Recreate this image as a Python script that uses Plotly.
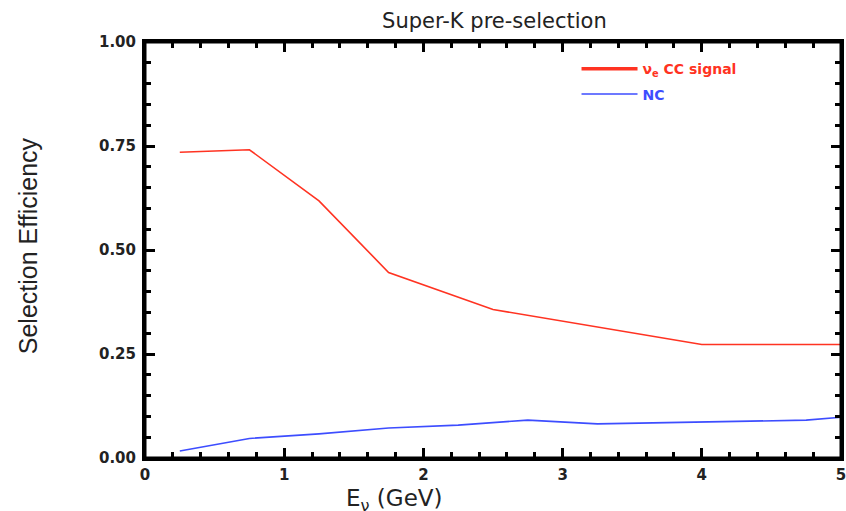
import plotly.graph_objects as go

# Data
signal_E = [0.25, 0.75, 1.25, 1.75, 2.5, 4.0, 5.0]
signal_eff = [0.735, 0.741, 0.618, 0.446, 0.357, 0.273, 0.273]

nc_E = [0.25, 0.75, 1.25, 1.75, 2.25, 2.75, 3.25, 3.75, 4.25, 4.75, 5.0]
nc_eff = [0.017, 0.047, 0.058, 0.072, 0.079, 0.091, 0.082, 0.085, 0.088, 0.091, 0.098]

x_ticks = [0, 1, 2, 3, 4, 5]
y_ticks = [0.0, 0.25, 0.5, 0.75, 1.0]

RED = "#ff3322"
BLUE = "#3d4dff"
INK = "#222222"

fig = go.Figure()
fig.add_trace(go.Scatter(x=signal_E, y=signal_eff, mode="lines",
                         line=dict(color=RED, width=1.6), showlegend=False))
fig.add_trace(go.Scatter(x=nc_E, y=nc_eff, mode="lines",
                         line=dict(color=BLUE, width=1.6), showlegend=False))
# legend entries
fig.add_trace(go.Scatter(x=[None], y=[None], mode="lines",
                         line=dict(color=RED, width=3.5), legendgroup="a",
                         name="<span style='color:%s'>ν<sub>e</sub> CC signal</span>" % RED))
fig.add_trace(go.Scatter(x=[None], y=[None], mode="lines",
                         line=dict(color=BLUE, width=1.6), legendgroup="b",
                         name="<span style='color:%s'>NC</span>" % BLUE))

axis_common = dict(
    showline=True, linewidth=3, linecolor="black", mirror="allticks",
    ticks="inside", ticklen=10, tickwidth=2.5, tickcolor="black",
    showgrid=False, zeroline=False, automargin=False, ticklabeloverflow="allow",
    tickfont=dict(family="DejaVu Sans", size=15, color=INK, weight="bold"),
)

fig.update_xaxes(range=[0, 5], tickvals=x_ticks, ticktext=[str(v) for v in x_ticks],
                 minor=dict(dtick=0.2, ticks="inside", ticklen=6, tickwidth=2.5, tickcolor="black"),
                 ticklabelstandoff=1,
                 **axis_common)
fig.update_yaxes(range=[0, 1], tickvals=y_ticks, tickformat=".2f",
                 minor=dict(dtick=0.05, ticks="inside", ticklen=6, tickwidth=2.5, tickcolor="black"),
                 ticklabelstandoff=3,
                 **axis_common)

fig.add_shape(type="rect", xref="paper", yref="paper", x0=0, x1=1, y0=0, y1=1,
              line=dict(color="black", width=3), layer="above")

fig.add_annotation(text="E<sub>ν</sub> (GeV)", xref="paper", yref="paper",
                   x=0.359, y=-0.102, xanchor="center", yanchor="middle", showarrow=False,
                   font=dict(family="DejaVu Sans", size=23, color=INK))
fig.add_annotation(text="Selection Efficiency", xref="paper", yref="paper",
                   x=-0.169, y=0.51, xanchor="center", yanchor="middle", showarrow=False,
                   textangle=-90,
                   font=dict(family="Liberation Sans Narrow, Liberation Sans", size=25, color=INK))

fig.update_layout(
    width=846, height=511,
    margin=dict(l=145, r=5, t=42, b=53),
    paper_bgcolor="white", plot_bgcolor="white",
    title=dict(text="Super-K pre-selection", xref="paper", x=0.502, xanchor="center",
               y=0.96, yanchor="middle",
               font=dict(family="DejaVu Sans", size=21, color=INK)),
    legend=dict(x=0.62, y=0.973, xanchor="left", yanchor="top", bgcolor="rgba(0,0,0,0)",
                font=dict(family="DejaVu Sans", size=14, weight="bold"),
                traceorder="grouped", tracegroupgap=4, itemwidth=56),
)

fig.write_html("out.html", config={"displayModeBar": False},
               post_script="document.body.style.margin='0';document.body.style.overflow='hidden';")
